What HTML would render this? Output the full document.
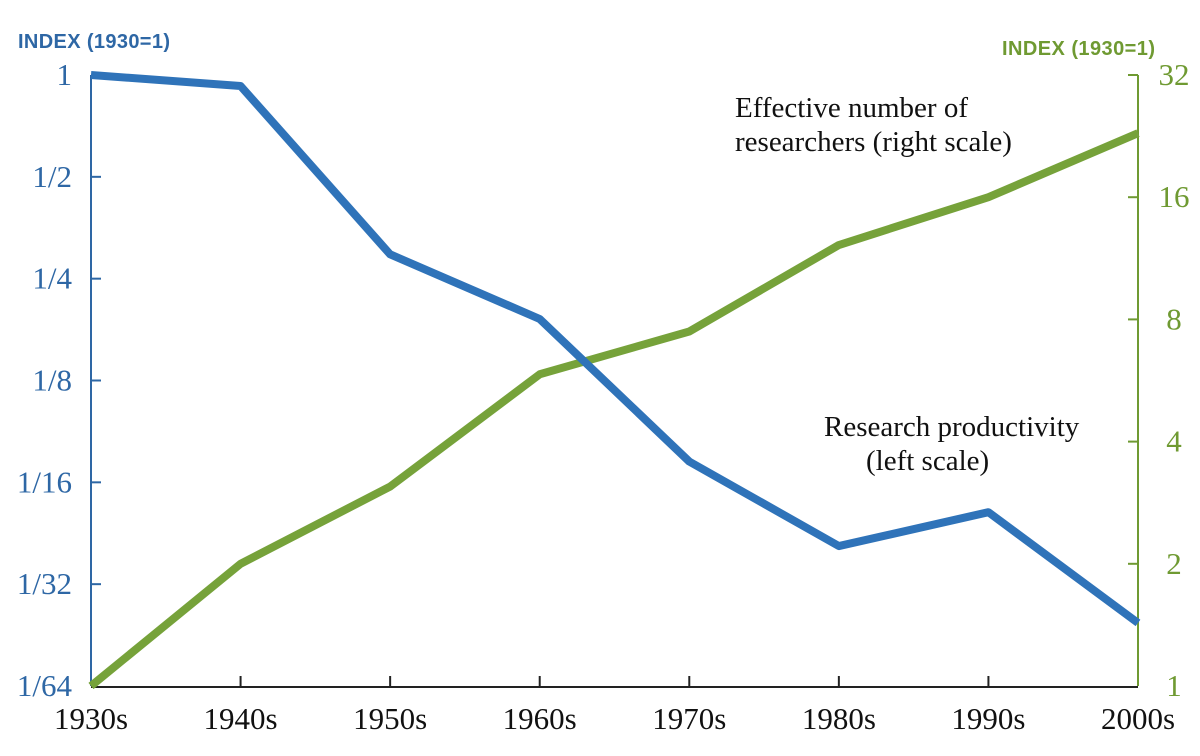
<!DOCTYPE html>
<html><head><meta charset="utf-8"><style>
body{margin:0;background:#fff}
svg{display:block}
.t{font-family:"Liberation Serif",serif;font-size:31px}
.l{font-family:"Liberation Serif",serif;font-size:29px}
.h{font-family:"Liberation Sans",sans-serif;font-weight:bold;font-size:20px}
</style></head><body>
<svg id="c" width="1200" height="756">
<text class="h" x="18" y="48" fill="#2e67a5" textLength="152">INDEX (1930=1)</text>
<text class="h" x="1002" y="55" fill="#6f9a32" textLength="153">INDEX (1930=1)</text>
<text class="l" x="735" y="117" fill="#111">Effective number of</text>
<text class="l" x="735" y="151" fill="#111">researchers (right scale)</text>
<text class="l" x="824" y="436" fill="#111">Research productivity</text>
<text class="l" x="866" y="470" fill="#111">(left scale)</text>
</svg>
<script>
const categories=["1930s","1940s","1950s","1960s","1970s","1980s","1990s","2000s"];
const productivity=[1,0.928,0.295,0.19,0.072,0.0405,0.051,0.024];
const researchers=[1,2,3.1,5.86,7.47,12.2,16,23];
const leftTicks=["1","1/2","1/4","1/8","1/16","1/32","1/64"];
const leftTickVals=[1,1/2,1/4,1/8,1/16,1/32,1/64];
const rightTicks=["32","16","8","4","2","1"];
const rightTickVals=[32,16,8,4,2,1];
const svg=document.getElementById('c'),NS="http://www.w3.org/2000/svg";
const X0=91,X1=1138,Y0=75,Y1=686;
const x=i=>X0+(X1-X0)*i/(categories.length-1);
const yL=v=>Y0+(-Math.log2(v))/6*(Y1-Y0);
const yR=v=>Y1-Math.log2(v)/5*(Y1-Y0);
function mk(t,a){const e=document.createElementNS(NS,t);for(const k in a)e.setAttribute(k,a[k]);svg.appendChild(e);return e;}
let e;
e=mk('line',{x1:X0,y1:Y0,x2:X0,y2:Y1,stroke:'#2e67a5','stroke-width':2});


e=mk('line',{x1:X1,y1:Y0,x2:X1,y2:Y1,stroke:'#6f9a32','stroke-width':2});


e=mk('line',{x1:X0,y1:Y1+1,x2:X1,y2:Y1+1,stroke:'#222','stroke-width':2});


leftTicks.forEach((t,i)=>{const y=yL(leftTickVals[i]);
 if(i>0&&i<6){e=mk('line',{x1:X0,y1:y,x2:X0+10,y2:y,stroke:'#2e67a5','stroke-width':2});
 
 }
 e=mk('text',{x:72,y:y+10,'text-anchor':'end',fill:'#2e67a5',class:'t'});e.textContent=t;
 
 });
rightTicks.forEach((t,i)=>{const y=yR(rightTickVals[i]);
 if(i<5){e=mk('line',{x1:X1-10,y1:y,x2:X1,y2:y,stroke:'#6f9a32','stroke-width':2});
 
 }
 e=mk('text',{x:1174,y:y+10,'text-anchor':'middle',fill:'#6f9a32',class:'t'});e.textContent=t;
 
 });
categories.forEach((c,i)=>{
 if(i>0&&i<7){e=mk('line',{x1:x(i),y1:Y1,x2:x(i),y2:Y1-10,stroke:'#222','stroke-width':2});
 
 }
 e=mk('text',{x:x(i),y:729,'text-anchor':'middle',fill:'#111',class:'t'});e.textContent=c;
 
 });
e=mk('polyline',{points:researchers.map((v,i)=>x(i)+','+yR(v)).join(' '),fill:'none',stroke:'#76a23a','stroke-width':8,'stroke-linejoin':'round'});


e=mk('polyline',{points:productivity.map((v,i)=>x(i)+','+yL(v)).join(' '),fill:'none',stroke:'#2f73b9','stroke-width':8,'stroke-linejoin':'round'});


</script>
</body></html>
